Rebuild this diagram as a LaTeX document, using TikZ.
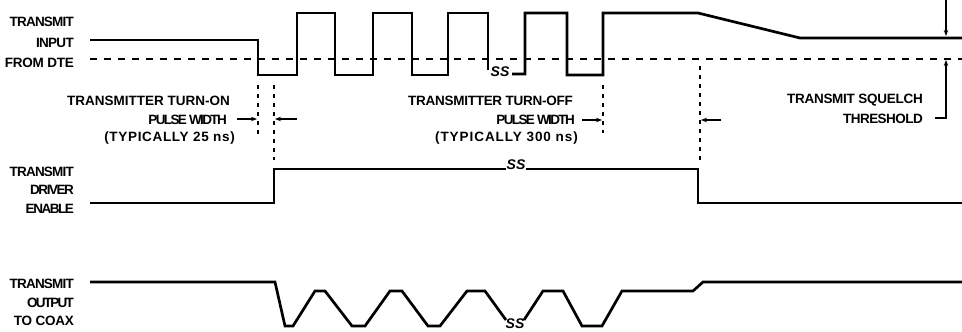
\documentclass[tikz,border=0pt]{standalone}
\usepackage{fontspec}
\setmainfont{Liberation Sans}
\usetikzlibrary{arrows.meta}
\newcommand\hsq[2]{{\addfontfeatures{LetterSpace=#1}#2}}
\begin{document}
\begin{tikzpicture}[x=1pt,y=-1pt,
  wave/.style={line width=2.7pt, line cap=butt, line join=miter},
  thr/.style={line width=1.3pt, dash pattern=on 7pt off 7pt},
  vdash/.style={line width=1.2pt, dash pattern=on 4pt off 5pt},
  dimarrow/.style={line width=1.1pt, -{Stealth[length=6pt,width=4.5pt]}},
  lbl/.style={font=\fontsize{13.5}{15}\selectfont\bfseries, inner sep=0pt, anchor=base east},
  brk/.style={font=\fontsize{14}{14}\selectfont\bfseries\itshape, inner sep=0pt}]
\useasboundingbox (0,0) rectangle (962,332);

% ---- labels, left column
\node[lbl] (inA) at (74,27) {\hsq{-6}{TRANSMIT}};
\node[lbl] (inB) at (74,47) {\hsq{-5}{INPUT}};
\node[lbl] (inC) at (74,67) {\hsq{-2}{FROM DTE}};
\node[lbl] (enA) at (74,176) {\hsq{-6}{TRANSMIT}};
\node[lbl] (enB) at (74,194) {\hsq{-11}{DRIVER}};
\node[lbl] (enC) at (74,213) {\hsq{-11}{ENABLE}};
\node[lbl] (ouA) at (74,288) {\hsq{-6}{TRANSMIT}};
\node[lbl] (ouB) at (74,307) {\hsq{-13}{OUTPUT}};
\node[lbl] (ouC) at (74,325) {\hsq{-2}{TO COAX}};

% ---- turn-on labels
\node[lbl] (onA) at (230,105) {TRANSMITTER TURN-ON};
\node[lbl] (onB) at (227,124) {\hsq{-12}{PULSE WIDTH}};
\node[lbl] (onC) at (235,141) {\hsq{5}{(TYPICALLY 25 ns)}};
% ---- turn-off labels
\node[lbl] (offA) at (573,105) {\hsq{-2}{TRANSMITTER TURN-OFF}};
\node[lbl] (offB) at (575,124) {\hsq{-12}{PULSE WIDTH}};
\node[lbl] (offC) at (578,141) {\hsq{7}{(TYPICALLY 300 ns)}};
% ---- squelch labels
\node[lbl] (sqA) at (923,103) {\hsq{-2}{TRANSMIT SQUELCH}};
\node[lbl] (sqB) at (923,123) {\hsq{-4}{THRESHOLD}};

% ---- threshold dashed line
\draw[thr] (90,59) -- (962,59);

% ---- transmit input
\draw[wave] (90,40) -- (258,40) -- (258,75) -- (297,75) -- (297,13) -- (335,13)
  -- (335,75) -- (373,75) -- (373,13) -- (412,13) -- (412,75) -- (448,75)
  -- (448,13) -- (488,13) -- (488,70);
\node[brk] (ss1) at (500,72) {SS};
\draw[wave] (512,74) -- (525,74) -- (525,13) -- (567,13) -- (567,75) -- (603,75)
  -- (603,13) -- (698,13) -- (800,38) -- (962,38);

% ---- driver enable
\draw[wave] (90,203) -- (274,203) -- (274,169) -- (698,169) -- (698,203) -- (962,203);
\node[brk, fill=white, inner xsep=1pt] (ss2) at (516,165) {SS};

% ---- transmit output
\draw[wave] (90,282) -- (275,282) -- (285,326) -- (293,326) -- (315,291) -- (325,291)
  -- (352,326) -- (365,326) -- (390,291) -- (402,291) -- (428,326) -- (440,326)
  -- (467,291) -- (485,291) -- (506,320);
\node[brk] (ss3) at (515,324) {SS};
\draw[wave] (524,320) -- (543,291) -- (563,291) -- (582,326) -- (602,326) -- (622,291)
  -- (693,291) -- (703,282) -- (962,282);

% ---- vertical dashed markers
\coordinate (vonA1) at (258,85);  \coordinate (vonA2) at (258,135);
\coordinate (vonB1) at (274,85);  \coordinate (vonB2) at (274,160);
\coordinate (voffA1) at (603,85); \coordinate (voffA2) at (603,133);
\coordinate (voffB1) at (700,66); \coordinate (voffB2) at (700,160);
\draw[vdash] (vonA1) -- (vonA2);
\draw[vdash] (vonB1) -- (vonB2);
\draw[vdash] (voffA1) -- (voffA2);
\draw[vdash] (voffB1) -- (voffB2);

% ---- dimension arrows
\coordinate (a1s) at (237,119); \coordinate (a1e) at (257,119);
\coordinate (a2s) at (297,119); \coordinate (a2e) at (275,119);
\coordinate (a3s) at (582,120); \coordinate (a3e) at (602,120);
\coordinate (a4s) at (721,120); \coordinate (a4e) at (701,120);
\draw[dimarrow] (a1s) -- (a1e);
\draw[dimarrow] (a2s) -- (a2e);
\draw[dimarrow] (a3s) -- (a3e);
\draw[dimarrow] (a4s) -- (a4e);

% ---- squelch threshold arrows
\coordinate (q1s) at (946,0);   \coordinate (q1e) at (946,36);
\coordinate (q2s) at (946,118); \coordinate (q2e) at (946,60);
\coordinate (q3)  at (935,118);
\draw[dimarrow] (q1s) -- (q1e);
\draw[dimarrow] (q3) -- (q2s) -- (q2e);
\end{tikzpicture}
\end{document}
